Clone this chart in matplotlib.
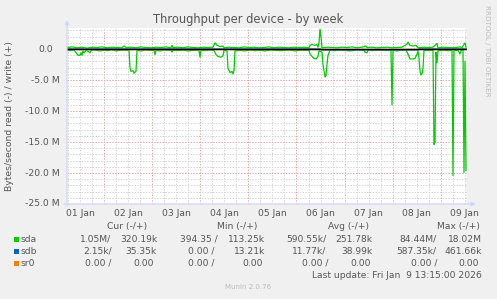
import matplotlib
matplotlib.use("Agg")
import matplotlib.pyplot as plt
import matplotlib.dates as mdates
from matplotlib.patches import Rectangle
from datetime import datetime, timedelta
import numpy as np
import pandas as pd

# ---------------- data ----------------
START = datetime(2026, 1, 1, 5, 15)
END = datetime(2026, 1, 9, 13, 15)

# sda read (negative, MB/s) : hours after START, values
SDA_READ_H = [0, 1.5, 3.5, 5, 5.5, 6.5, 7, 7.5, 8, 8.5, 9.5, 10.5, 11.5, 12, 14, 16.5, 18.5, 20.5,
              22.5, 24.5, 26.5, 28.5, 31, 31.5, 32, 33, 33.5, 34, 34.5, 35, 37, 39, 41.5, 43.5,
              44, 44.5, 46.5, 48.5, 50.5, 52, 52.5, 53, 55.5, 58, 60.5, 63, 66, 66.5, 67, 69,
              71.5, 73.5, 74.5, 75.5, 77, 78, 78.5, 80, 80.5, 81.5, 82.5, 83, 83.5, 84, 86.5,
              89, 91.5, 94, 96.5, 99, 101.5, 104, 106.5, 109, 111.5, 114, 116.5, 119, 121,
              121.5, 122.5, 123.5, 124.5, 125.5, 126, 127.5, 128, 129, 129.5, 130, 130.5,
              131.5, 134, 136.5, 139, 141.5, 144, 146.5, 148.5, 149, 150, 150.5, 153, 155.5,
              158, 160.5, 162, 162.5, 163, 165, 167, 169.5, 170.5, 171.5, 173, 174, 175,
              175.5, 176, 176.5, 177, 177.5, 178, 178.5, 180.5, 183, 183.5, 184, 184.5, 185,
              185.5, 188, 190.5, 192.5, 193, 193.5, 195.5, 196.5, 197, 198, 198.5, 199, 199.5]
SDA_READ = [-0.2, -0.25, -0.15, -0.8, -1.0, -1.0, -0.6, -1.0, -0.3, -0.6, -0.2, -0.35, -0.6, -0.2,
            -0.15, -0.3, -0.2, -0.25, -0.1, -0.3, -0.2, -0.15, -0.2, -3.0, -3.6, -3.5, -3.9,
            -3.7, -3.6, -0.2, -0.3, -0.15, -0.2, -0.2, -0.9, -0.2, -0.3, -0.15, -0.2, -0.2,
            -0.5, -0.2, -0.25, -0.15, -0.3, -0.2, -0.2, -1.3, -0.2, -0.25, -0.15, -0.2, -0.9,
            -1.2, -1.3, -1.1, -0.2, -0.3, -3.1, -3.8, -3.6, -4.0, -3.5, -0.3, -0.2, -0.3,
            -0.15, -0.25, -0.2, -0.3, -0.15, -0.2, -0.25, -0.2, -0.15, -0.3, -0.2, -0.2,
            -0.2, -0.8, -1.2, -1.5, -1.6, -1.2, -0.3, -0.5, -2.5, -4.5, -4.3, -2.5, -1.0,
            -0.2, -0.25, -0.15, -0.2, -0.3, -0.2, -0.15, -0.2, -0.5, -0.6, -0.2, -0.25,
            -0.15, -0.2, -0.2, -0.2, -9.0, -0.2, -0.3, -0.15, -0.2, -0.8, -1.6, -1.6, -1.5,
            -0.8, -0.3, -1.5, -3.5, -4.2, -4.0, -3.0, -0.2, -0.25, -0.2, -15.4, -15.0, -0.5,
            -2.2, -0.3, -0.2, -0.25, -0.2, -20.4, -0.2, -0.2, -0.8, -0.2, -0.2, -19.9, -2.0,
            -19.6]

# sda write (positive, MB/s)
SDA_WRITE_H = [0, 2.5, 5, 7.5, 10, 12.5, 15, 17.5, 20, 22.5, 25, 27.5, 28.5, 29.5, 32, 34.5, 37,
               39.5, 42, 44.5, 47, 49.5, 52, 52.5, 53, 55.5, 58, 60.5, 63, 65.5, 68, 70.5, 73,
               74, 75, 76.5, 78, 78.5, 81, 83.5, 86, 88.5, 91, 93.5, 96, 98.5, 101, 103.5, 106,
               108.5, 111, 113.5, 116, 118.5, 121, 121.5, 122.5, 124, 125, 125.5, 126, 126.5,
               127, 127.5, 130, 132.5, 135, 137.5, 140, 142.5, 145, 147.5, 149.5, 150, 152.5,
               155, 157.5, 160, 162.5, 165, 167.5, 170, 170.5, 171.5, 173, 174.5, 175.5, 178,
               180.5, 183, 185, 185.5, 188, 190.5, 193, 195.5, 196.5, 197.5, 199, 199.5]
SDA_WRITE = [0.25, 0.35, 0.2, 0.3, 0.15, 0.3, 0.25, 0.35, 0.2, 0.3, 0.25, 0.2, 0.5, 0.25, 0.3,
             0.2, 0.35, 0.25, 0.2, 0.3, 0.25, 0.35, 0.2, 0.6, 0.25, 0.3, 0.2, 0.35, 0.25, 0.2,
             0.3, 0.25, 0.3, 1.0, 0.6, 0.4, 0.5, 0.2, 0.3, 0.25, 0.2, 0.35, 0.25, 0.3, 0.2,
             0.25, 0.35, 0.2, 0.3, 0.25, 0.2, 0.3, 0.25, 0.3, 0.2, 0.6, 0.75, 0.6, 0.75, 0.3,
             1.0, 3.2, 2.0, 0.2, 0.3, 0.25, 0.2, 0.3, 0.25, 0.35, 0.2, 0.3, 0.5, 0.25, 0.3,
             0.2, 0.25, 0.3, 0.2, 0.25, 0.3, 0.8, 1.1, 0.6, 0.5, 0.6, 0.2, 0.3, 0.25, 0.3, 0.9,
             0.2, 0.3, 0.25, 0.2, 0.3, 0.35, 0.25, 1.0, 0.3]

# sdb read / write
SDB_READ_H = [0, 126.5, 127.5, 175.5, 176, 200]
SDB_READ = [0.0, 0.0, -0.12, -0.12, 0.0, 0.0]
SDB_WRITE_H = [0, 200]
SDB_WRITE = [0.03, 0.03]

# sr0 read / write
SR0_H = [0, 200]
SR0_READ = [0.0, 0.0]
SR0_WRITE = [0.0, 0.0]

Y_TICKS = [0, -5, -10, -15, -20, -25]
Y_TICK_LABELS = ["0.0", "-5.0 M", "-10.0 M", "-15.0 M", "-20.0 M", "-25.0 M"]

DEVICES = ["sda", "sdb", "sr0"]
COLORS = ["#00CC00", "#0066B3", "#FF8000"]
HEADERS = ["Cur (-/+)", "Min (-/+)", "Avg (-/+)", "Max (-/+)"]
CUR = [("1.05M/", "320.19k"), ("2.15k/", "35.35k"), ("0.00 /", "0.00")]
MIN = [("394.35 /", "113.25k"), ("0.00 /", "13.21k"), ("0.00 /", "0.00")]
AVG = [("590.55k/", "251.78k"), ("11.77k/", "38.99k"), ("0.00 /", "0.00")]
MAX = [("84.44M/", "18.02M"), ("587.35k/", "461.66k"), ("0.00 /", "0.00")]

TITLE = "Throughput per device - by week"
YLABEL = "Bytes/second read (-) / write (+)"
LAST_UPDATE = "Last update: Fri Jan  9 13:15:00 2026"
WATERMARK = "RRDTOOL / TOBI OETIKER"
FOOTER = "Munin 2.0.76"

# ---------------- figure ----------------
W, H = 497, 299
BG = "#F0F0F0"
TXT = "#555555"
fig = plt.figure(figsize=(W / 100, H / 100), dpi=100, facecolor=BG)
plt.rcParams["font.family"] = ["DejaVu Sans"]

L, R, T, B = 67, 467, 28, 204
ax = fig.add_axes([L / W, 1 - B / H, (R - L) / W, (B - T) / H])
ax.set_facecolor("white")
for s in ax.spines.values():
    s.set_visible(False)

def to_dt(hours):
    return [START + timedelta(hours=h) for h in hours]

M = 1e6
ymin, ymax = -25 * M, 3.4 * M
ax.set_xlim(START, END)
ax.set_ylim(ymin, ymax)

# grid
for t in pd.date_range("2026-01-01 06:00", END, freq="6h"):
    if t.hour == 0:
        ax.axvline(t, color="#E6A8A8", lw=0.72, ls=(0, (1.4, 1.4)), zorder=0.5)
    else:
        ax.axvline(t, color="#D4D4D4", lw=0.72, ls=(0, (1.4, 1.4)), zorder=0.5)
for v in range(-25, 4):
    if v % 5 == 0:
        ax.axhline(v * M, color="#E6A8A8", lw=0.72, ls=(0, (1.4, 1.4)), zorder=0.5)
    else:
        ax.axhline(v * M, color="#D4D4D4", lw=0.72, ls=(0, (1.4, 1.4)), zorder=0.5)

# data lines
ax.plot(to_dt(SDA_READ_H), np.array(SDA_READ) * M, color=COLORS[0], lw=0.9, zorder=2)
ax.plot(to_dt(SDA_WRITE_H), np.array(SDA_WRITE) * M, color=COLORS[0], lw=0.9, zorder=2)
ax.plot(to_dt(SDB_READ_H), np.array(SDB_READ) * M, color=COLORS[1], lw=1.3, zorder=2.1)
ax.plot(to_dt(SDB_WRITE_H), np.array(SDB_WRITE) * M, color=COLORS[1], lw=0.9, zorder=2.1)
ax.plot(to_dt(SR0_H), np.array(SR0_READ) * M, color=COLORS[2], lw=0.9, zorder=2.2)
ax.plot(to_dt(SR0_H), np.array(SR0_WRITE) * M, color=COLORS[2], lw=0.9, zorder=2.2)
ax.axhline(0, color="black", lw=0.9, zorder=3)
ax.axvline(END, color="#A8A8A8", lw=0.9, zorder=3)

# x ticks
ax.xaxis.set_major_locator(mdates.HourLocator(byhour=[12]))
ax.xaxis.set_major_formatter(mdates.DateFormatter("%d %b"))
ax.tick_params(axis="x", length=0, pad=3.6, labelsize=6.7, colors=TXT)
ax.set_yticks([])

# y tick labels
for v, lab in zip(Y_TICKS, Y_TICK_LABELS):
    off = 0.0 if lab.endswith("M") else 6.7
    ax.annotate(lab, xy=(0, v * M), xycoords=("axes fraction", "data"),
                xytext=(-(7 + off) * 0.72, 0), textcoords="offset points",
                ha="right", va="center", fontsize=6.7, color=TXT)

# axis arrows
arrow_c = "#CFD6F8"
ax.annotate("", xy=(0, 1 + 8 / 176), xytext=(0, -2 / 176), xycoords="axes fraction",
            arrowprops=dict(arrowstyle="-|>", color=arrow_c, lw=0.9, mutation_scale=6,
                            shrinkA=0, shrinkB=0), annotation_clip=False, zorder=4)
ax.annotate("", xy=(1 + 9 / 400, 0), xytext=(-3 / 400, 0), xycoords="axes fraction",
            arrowprops=dict(arrowstyle="-|>", color=arrow_c, lw=0.9, mutation_scale=6,
                            shrinkA=0, shrinkB=0), annotation_clip=False, zorder=4)

def fx(px):
    return px / W

def fy(py):
    return 1 - py / H

fig.text(fx(248), fy(20), TITLE, ha="center", va="center", fontsize=8.3, color=TXT)
fig.text(fx(10), fy(116), YLABEL, ha="center", va="center", rotation=90, fontsize=6.7, color=TXT)
fig.text(fx(487), fy(5), WATERMARK, ha="center", va="top", rotation=270, fontsize=5.1,
         color="#BBBBBB")

# legend
LS = 6.6
hdr_x = [(126.7, "center"), (237, "center"), (348, "center"), (480, "right")]
for h, (x, ha) in zip(HEADERS, hdr_x):
    fig.text(fx(x), fy(226.7), h, ha=ha, va="center", fontsize=LS, color=TXT)

row_y = [239.5, 251.5, 263.5]
col_right = [
    [111.7, 157.3, 217.7, 265.0, 326.7, 372.7, 436.7, 482.3],
    [111.7, 157.0, 215.0, 265.0, 326.0, 372.7, 436.7, 482.0],
    [111.7, 154.3, 215.0, 262.7, 329.0, 371.0, 437.7, 479.0],
]
for i, dev in enumerate(DEVICES):
    y = row_y[i]
    fig.add_artist(Rectangle((fx(14), fy(y + 2.7)), 5.4 / W, 5.4 / H, transform=fig.transFigure,
                             facecolor=COLORS[i], edgecolor="none"))
    fig.text(fx(20), fy(y), dev, ha="left", va="center", fontsize=LS, color=TXT)
    vals = [CUR[i][0], CUR[i][1], MIN[i][0], MIN[i][1], AVG[i][0], AVG[i][1], MAX[i][0], MAX[i][1]]
    for s, xr in zip(vals, col_right[i]):
        fig.text(fx(xr), fy(y), s, ha="right", va="center", fontsize=LS, color=TXT)

fig.text(fx(482.3), fy(275), LAST_UPDATE, ha="right", va="center", fontsize=LS, color=TXT)
fig.text(fx(248), fy(286.7), FOOTER, ha="center", va="center", fontsize=5.0, color="#BBBBBB")

fig.savefig("out.png", dpi=100, facecolor=BG)
